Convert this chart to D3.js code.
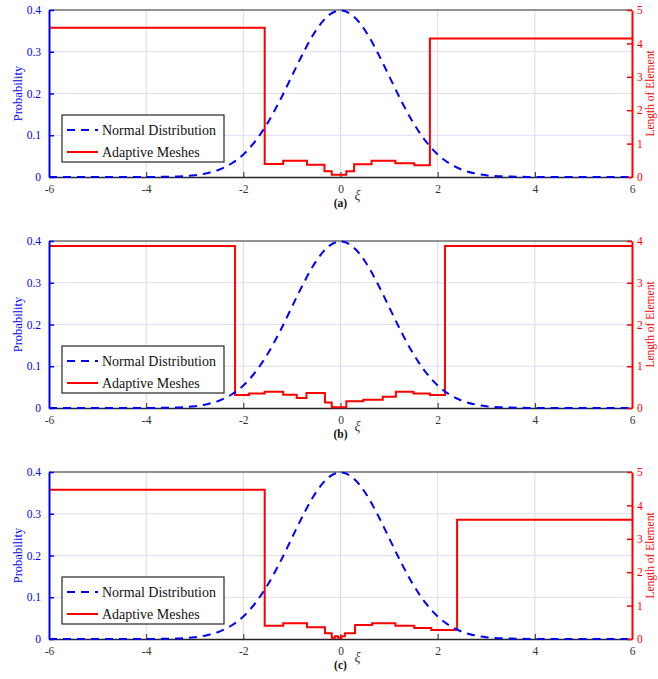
<!DOCTYPE html>
<html>
<head>
<meta charset="utf-8">
<script src="https://cdn.jsdelivr.net/npm/d3@7"></script>
<style>
  body { margin: 0; background: #fff; }
  svg { display: block; }
  svg text { font-family: "Liberation Serif", "Times New Roman", Times, "DejaVu Serif", serif !important; }
  .tick text { font-size: 11.5px; }
</style>
</head>
<body>
<svg width="658" height="679"></svg>
<script>
// tick labels
const xTicks = [-6, -4, -2, 0, 2, 4, 6];
const probTicks = [0, 0.1, 0.2, 0.3, 0.4];
const gridX = [-4, -2, 0, 2, 4];
const gridY = [0.1, 0.2, 0.3];
const panelNames = ["(a)", "(b)", "(c)"];
const lengthMax = [5, 4, 5];

// normal distribution, read every 0.25 from -6 to 6
const pdfXi = d3.range(-6, 6.001, 0.25);
const pdfValues = [
  0, 0, 0, 0, 0, 0, 0, 0.00005,
  0.0001, 0.0004, 0.0009, 0.0020, 0.0044, 0.0091, 0.0175, 0.0317,
  0.0540, 0.0863, 0.1295, 0.1826, 0.2420, 0.3011, 0.3521, 0.3867,
  0.3989,
  0.3867, 0.3521, 0.3011, 0.2420, 0.1826, 0.1295, 0.0863, 0.0540,
  0.0317, 0.0175, 0.0091, 0.0044, 0.0020, 0.0009, 0.0004, 0.0001,
  0.00005, 0, 0, 0, 0, 0, 0, 0
];

// adaptive meshes: element edges and element lengths
const meshEdgesA = [-6, -1.56, -1.18, -0.69, -0.33, -0.18, 0.12, 0.28, 0.64, 1.13, 1.52, 1.84, 6];
const meshLenA = [4.47, 0.39, 0.49, 0.37, 0.17, 0.07, 0.17, 0.38, 0.49, 0.41, 0.35, 4.15];

const meshEdgesB = [-6, -2.17, -1.88, -1.56, -1.18, -0.90, -0.70, -0.32, -0.18, 0.12, 0.47, 0.87, 1.14, 1.50, 1.84, 2.15, 6];
const meshLenB = [3.88, 0.31, 0.35, 0.39, 0.32, 0.24, 0.36, 0.13, 0.02, 0.16, 0.20, 0.27, 0.39, 0.35, 0.31, 3.88];

const meshEdgesC = [-6, -1.56, -1.18, -0.69, -0.32, -0.18, -0.11, -0.05, 0.02, 0.09, 0.30, 0.65, 1.13, 1.52, 1.87, 2.40, 6];
const meshLenC = [4.47, 0.40, 0.47, 0.35, 0.17, 0.04, 0.08, 0.04, 0.08, 0.17, 0.42, 0.47, 0.40, 0.33, 0.27, 3.57];

const meshes = [[meshEdgesA, meshLenA], [meshEdgesB, meshLenB], [meshEdgesC, meshLenC]];

//layout
const plotLeft = 49;
const plotRight = 632;
const plotH = 167;
const panelTops = [10, 241, 472];

const svg = d3.select("svg");
const x = d3.scaleLinear().domain([-6, 6]).range([plotLeft, plotRight]);

function drawPanel(i) {
  const top = panelTops[i];
  const g = svg.append("g").attr("transform", "translate(0," + top + ")");
  const yP = d3.scaleLinear().domain([0, 0.4]).range([plotH, 0]);
  const yL = d3.scaleLinear().domain([0, lengthMax[i]]).range([plotH, 0]);

  //grid
  g.append("g").selectAll("line").data(gridX).enter().append("line")
    .attr("x1", d => x(d)).attr("x2", d => x(d))
    .attr("y1", 0).attr("y2", plotH)
    .attr("stroke", "#dcdcdc").attr("stroke-width", 1);
  g.append("g").selectAll("line").data(gridY).enter().append("line")
    .attr("x1", plotLeft).attr("x2", plotRight)
    .attr("y1", d => yP(d)).attr("y2", d => yP(d))
    .attr("stroke", "#dcdcf6").attr("stroke-width", 1);

  //top border
  g.append("line").attr("x1", plotLeft).attr("x2", plotRight)
    .attr("y1", 0).attr("y2", 0).attr("stroke", "#262626").attr("stroke-width", 1.2);

  //x axis
  const xAxis = g.append("g").attr("transform", "translate(0," + plotH + ")")
    .call(d3.axisBottom(x).tickValues(xTicks).tickFormat(d => String(d))
      .tickSizeInner(-5).tickSizeOuter(0).tickPadding(8));
  xAxis.select(".domain").attr("stroke", "#262626").attr("stroke-width", 1.5);
  xAxis.selectAll(".tick line").attr("stroke", "#262626");
  xAxis.selectAll(".tick text").attr("fill", "#333");

  //mesh step line
  const [edges, lens] = meshes[i];
  const pts = edges.map((e, k) => [e, k < lens.length ? lens[k] : lens[lens.length - 1]]);
  g.append("path").datum(pts)
    .attr("fill", "none").attr("stroke", "#ff0000").attr("stroke-width", 2)
    .attr("d", d3.line().x(d => x(d[0])).y(d => yL(d[1])).curve(d3.curveStepAfter));

  //normal distribution
  g.append("path").datum(pdfXi.map((v, k) => [v, pdfValues[k]]))
    .attr("fill", "none").attr("stroke", "#0000ff").attr("stroke-width", 2)
    .attr("stroke-dasharray", "8,6")
    .attr("d", d3.line().x(d => x(d[0])).y(d => yP(d[1])).curve(d3.curveMonotoneX));

  //left axis
  const yAxisL = g.append("g").attr("transform", "translate(" + plotLeft + ",0)")
    .call(d3.axisLeft(yP).tickValues(probTicks).tickFormat(d3.format("~g")).tickSizeInner(-5).tickSizeOuter(0).tickPadding(8));
  yAxisL.select(".domain").attr("stroke", "#0000ff").attr("stroke-width", 2);
  yAxisL.selectAll(".tick line").attr("stroke", "#0000ff").attr("stroke-width", 1.5);
  yAxisL.selectAll(".tick text").attr("fill", "#0000ff");

  //right axis
  const yAxisR = g.append("g").attr("transform", "translate(" + plotRight + ",0)")
    .call(d3.axisRight(yL).tickValues(d3.range(0, lengthMax[i] + 1)).tickFormat(d3.format("d"))
      .tickSizeInner(-5).tickSizeOuter(0).tickPadding(5));
  yAxisR.select(".domain").attr("stroke", "#ff0000").attr("stroke-width", 2);
  yAxisR.selectAll(".tick line").attr("stroke", "#ff0000").attr("stroke-width", 1.5);
  yAxisR.selectAll(".tick text").attr("fill", "#ff0000");

  //axis titles
  g.append("text").attr("transform", "translate(22," + plotH / 2 + ") rotate(-90)")
    .attr("text-anchor", "middle").attr("font-size", 12.5).attr("fill", "#0000ff")
    .text("Probability");
  g.append("text").attr("transform", "translate(654," + plotH / 2 + ") rotate(-90)")
    .attr("text-anchor", "middle").attr("font-size", 11.5).attr("fill", "#ff0000")
    .text("Length of Element");

  g.append("text").attr("x", x(0) + 17).attr("y", plotH + 23)
    .attr("text-anchor", "middle").attr("font-size", 14).attr("fill", "#444")
    .attr("font-style", "italic").text("ξ");
  g.append("text").attr("x", x(0)).attr("y", plotH + 30)
    .attr("text-anchor", "middle").attr("font-size", 11.5).attr("font-weight", "bold")
    .attr("fill", "#111").text(panelNames[i]);

  //legend
  const leg = g.append("g").attr("transform", "translate(62,105)");
  leg.append("rect").attr("width", 162).attr("height", 47)
    .attr("fill", "#fff").attr("stroke", "#262626").attr("stroke-width", 1.2);
  const items = [
    { label: "Normal Distribution", color: "#0000ff", dash: "8,6" },
    { label: "Adaptive Meshes", color: "#ff0000", dash: null }
  ];
  items.forEach(function (d, k) {
    const yy = 15 + k * 22;
    leg.append("line").attr("x1", 5).attr("x2", 36).attr("y1", yy).attr("y2", yy)
      .attr("stroke", d.color).attr("stroke-width", 2)
      .attr("stroke-dasharray", d.dash);
    leg.append("text").attr("x", 40).attr("y", yy + 4.5)
      .attr("font-size", 14).attr("fill", "#111").text(d.label);
  });
}

[0, 1, 2].forEach(drawPanel);
</script>
</body>
</html>
